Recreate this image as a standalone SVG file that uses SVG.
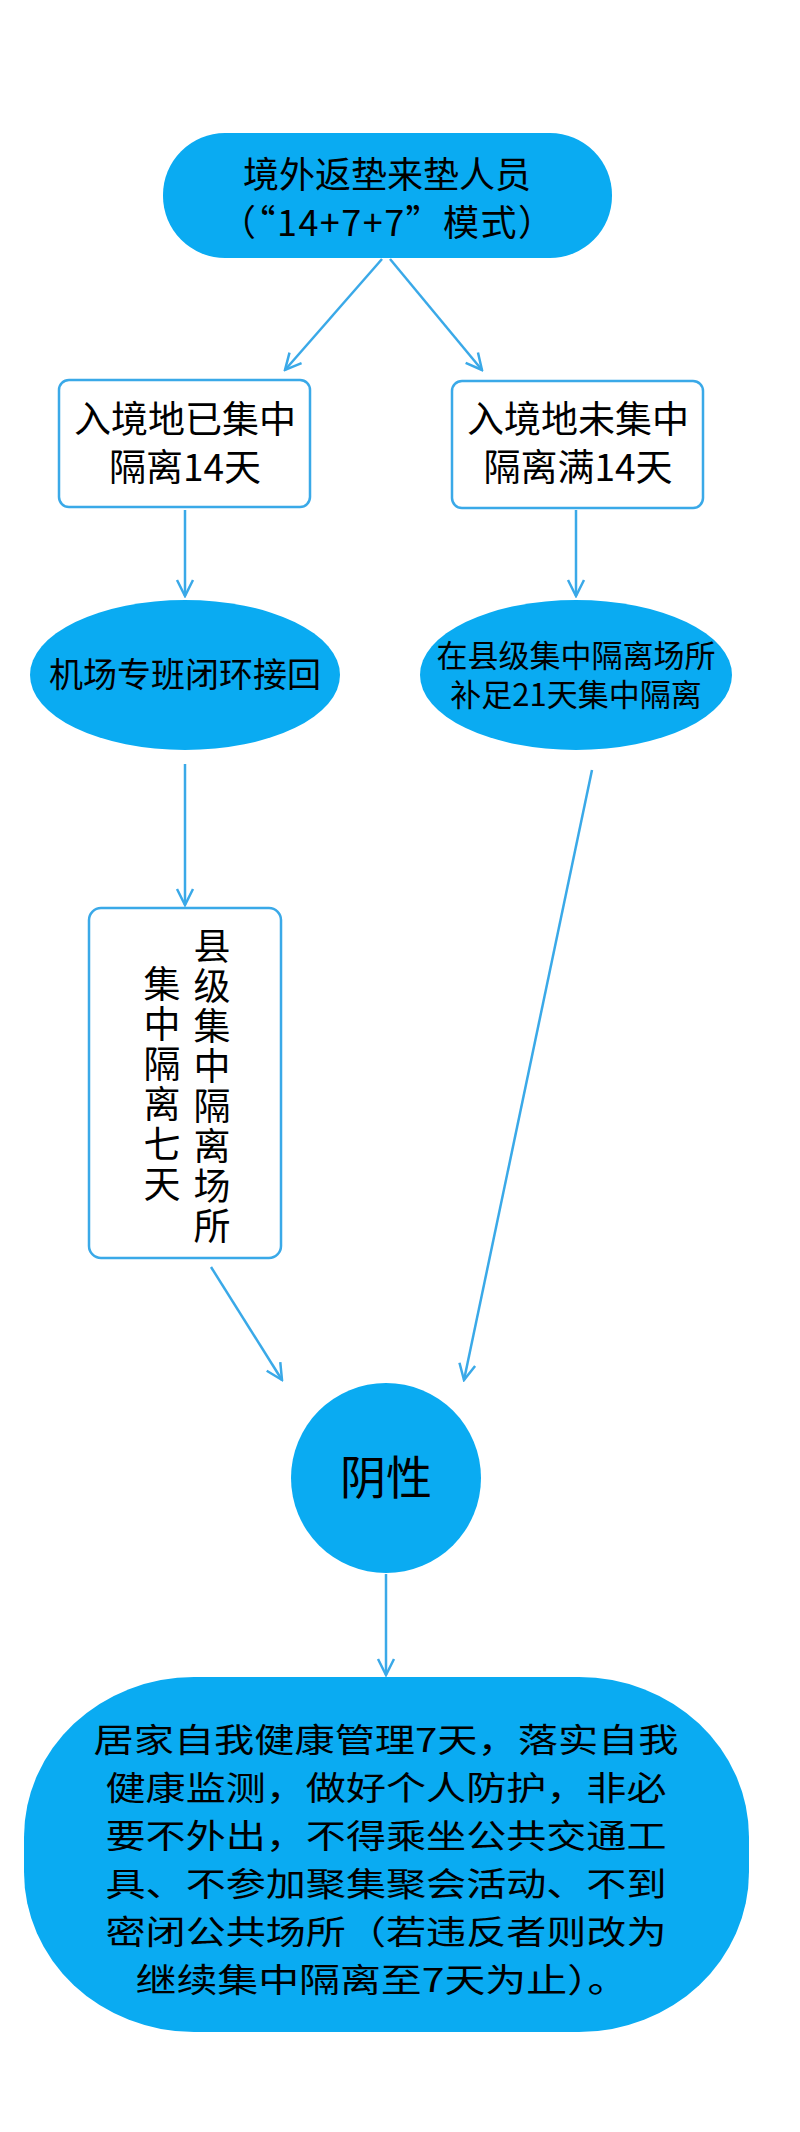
<svg xmlns="http://www.w3.org/2000/svg" width="800" height="2132" viewBox="0 0 800 2132">
<defs>
<style>
.f{fill:#0aabf2}
.b{fill:#fff;stroke:#3aa9e8;stroke-width:2.5}
.t{font-family:"Noto Sans CJK SC","Liberation Sans",sans-serif;fill:#000;text-anchor:middle}
.v{font-family:"Noto Sans CJK SC","Liberation Sans",sans-serif;fill:#000;writing-mode:vertical-rl;letter-spacing:3px}
.c{stroke:#3aa9e8;stroke-width:2.5;fill:none;marker-end:url(#a)}
</style>
<marker id="a" viewBox="0 0 20 20" refX="18" refY="10" markerWidth="20" markerHeight="20" markerUnits="userSpaceOnUse" orient="auto"><path d="M2,2 L18,10 L2,18" fill="none" stroke="#3aa9e8" stroke-width="2.5"/></marker>
</defs>
<rect width="800" height="2132" fill="#fff"/>
<g id="connectors">
<line class="c" x1="382" y1="259" x2="285" y2="370"/>
<line class="c" x1="390" y1="259" x2="482" y2="370"/>
<line class="c" x1="185" y1="510" x2="185" y2="596"/>
<line class="c" x1="576" y1="510" x2="576" y2="596"/>
<line class="c" x1="185" y1="764" x2="185" y2="905"/>
<line class="c" x1="211" y1="1267" x2="282" y2="1380"/>
<line class="c" x1="592" y1="770" x2="464" y2="1380"/>
<line class="c" x1="386" y1="1574" x2="386" y2="1675"/>
</g>
<g id="start">
<rect class="f" x="163" y="133" width="449" height="125" rx="62"/>
<text class="t" x="387" y="188" font-size="36">境外返垫来垫人员</text>
<text class="t" x="387" y="236" font-size="36" textLength="334" lengthAdjust="spacing">（“14+7+7”模式）</text>
</g>
<g id="left-box">
<rect class="b" x="59" y="380" width="251" height="127" rx="10"/>
<text class="t" x="185" y="433" font-size="37">入境地已集中</text>
<text class="t" x="185" y="481" font-size="37">隔离14天</text>
</g>
<g id="right-box">
<rect class="b" x="452" y="381" width="251" height="127" rx="10"/>
<text class="t" x="578" y="433" font-size="37">入境地未集中</text>
<text class="t" x="578" y="481" font-size="37">隔离满14天</text>
</g>
<g id="left-ellipse">
<ellipse class="f" cx="185" cy="675" rx="155" ry="75"/>
<text class="t" x="185" y="687" font-size="34">机场专班闭环接回</text>
</g>
<g id="right-ellipse">
<ellipse class="f" cx="576" cy="675" rx="156" ry="75"/>
<text class="t" x="576" y="667" font-size="31">在县级集中隔离场所</text>
<text class="t" x="576" y="706" font-size="31">补足21天集中隔离</text>
</g>
<g id="vertical-box">
<rect class="b" x="89" y="908" width="192" height="350" rx="12"/>
<text class="v" font-size="37" x="212" y="927">县级集中隔离场所</text>
<text class="v" font-size="37" x="162" y="965">集中隔离七天</text>
</g>
<g id="negative">
<circle class="f" cx="386" cy="1478" r="95"/>
<text class="t" x="386" y="1494" font-size="46">阴性</text>
</g>
<g id="final">
<rect class="f" x="24" y="1677" width="725" height="355" rx="170" ry="160"/>
<g class="t" font-size="33">
<text x="386" y="1752" textLength="585" lengthAdjust="spacingAndGlyphs">居家自我健康管理7天，落实自我</text>
<text x="386" y="1800" textLength="561" lengthAdjust="spacingAndGlyphs">健康监测，做好个人防护，非必</text>
<text x="386" y="1848" textLength="561" lengthAdjust="spacingAndGlyphs">要不外出，不得乘坐公共交通工</text>
<text x="386" y="1896" textLength="561" lengthAdjust="spacingAndGlyphs">具、不参加聚集聚会活动、不到</text>
<text x="386" y="1944" textLength="561" lengthAdjust="spacingAndGlyphs">密闭公共场所（若违反者则改为</text>
<text x="382" y="1992" textLength="493" lengthAdjust="spacingAndGlyphs">继续集中隔离至7天为止）。</text>
</g>
</g>
</svg>
